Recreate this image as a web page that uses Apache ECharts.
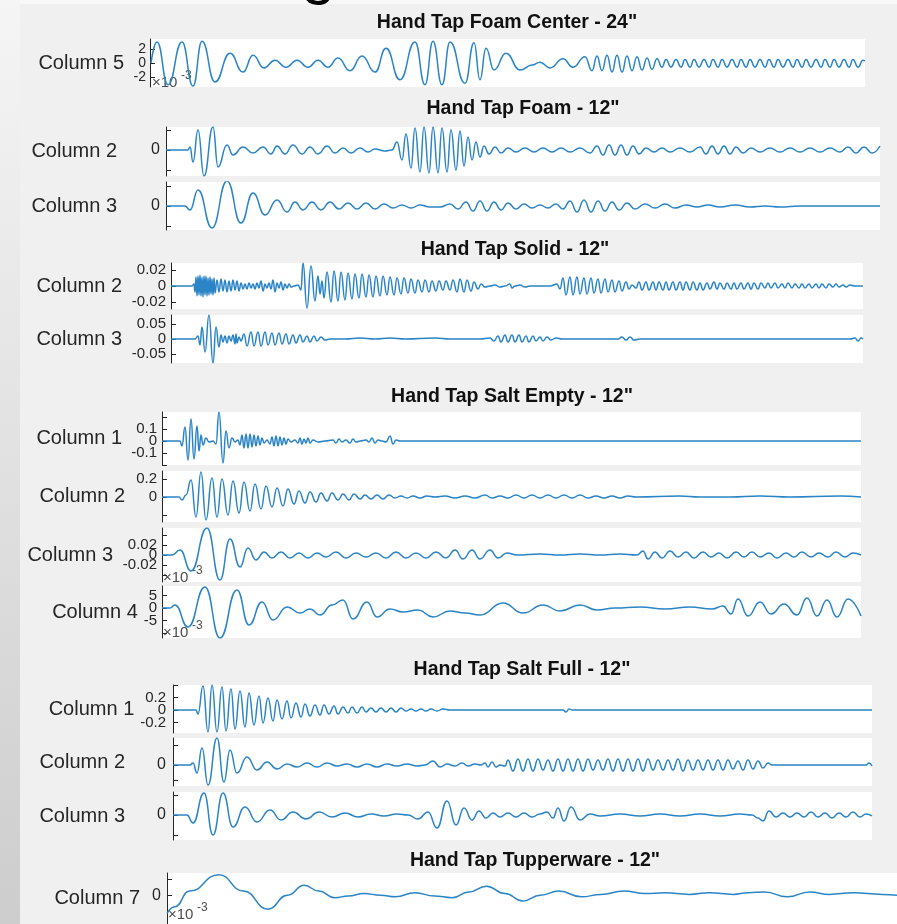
<!DOCTYPE html>
<html><head><meta charset="utf-8">
<script src="https://cdn.jsdelivr.net/npm/echarts@6/dist/echarts.min.js"></script>
<style>html,body{margin:0;padding:0;background:#f0f0f0}#c{width:897px;height:924px}</style>
</head><body><div id="c"></div>
<script>
// ---------------- DATA ----------------
const panelTitles = ['Hand Tap Foam Center - 24"', 'Hand Tap Foam - 12"', 'Hand Tap Solid - 12"',
  'Hand Tap Salt Empty - 12"', 'Hand Tap Salt Full - 12"', 'Hand Tap Tupperware - 12"'];
const seriesNames = ['Column 5', 'Column 2', 'Column 3', 'Column 2', 'Column 3',
  'Column 1', 'Column 2', 'Column 3', 'Column 4', 'Column 1', 'Column 2', 'Column 3', 'Column 7'];

// [sample, value]
const foamCenterCol5 = [[1,0],[7,3.0],[18,-3.1],[32,3.0],[43,-3.3],[52,3.1],[65,-2.7],[80,1.4],[93,-1.3],[103,1.1],[114,-0.7],[125,0.4],[136,-0.6],[147,0.4],[158,-0.6],[168,0.4],[178,-0.6],[188,0.7],[200,-1.1],[212,1.0],[225,-1.3],[236,2.1],[250,-2.4],[265,3.0],[275,-3.1],[283,3.1],[292,-3.1],[300,3.0],[315,-2.9],[324,2.9],[330,-2.4],[336,2.1],[344,-1.0],[356,1.4],[370,-1.0],[382,-0.3],[390,0.1],[400,-0.7],[413,0.6],[423,-0.6],[435,0.9],[442,-1.1],[447,1.0],[452,-1.1],[457,1.1],[462,-1.3],[467,1.1],[472,-1.3],[477,1.0],[482,-1.1],[487,0.9],[492,-1.0],[497,0.7],[502,-0.9],[507,0.6],[512,-0.6],[516,0.5],[521,-0.6],[526,0.5],[531,-0.6],[535,0.5],[540,-0.6],[544,0.5],[549,-0.6],[554,0.5],[559,-0.6],[563,0.5],[568,-0.6],[572,0.5],[577,-0.6],[582,0.5],[587,-0.6],[591,0.5],[596,-0.6],[600,0.5],[605,-0.6],[610,0.5],[615,-0.6],[619,0.5],[624,-0.6],[628,0.5],[633,-0.6],[638,0.5],[643,-0.6],[647,0.5],[652,-0.6],[656,0.5],[661,-0.6],[666,0.5],[671,-0.6],[675,0.5],[680,-0.6],[684,0.5],[689,-0.6],[694,0.5],[699,-0.6],[703,0.5],[708,-0.6],[713,0.4],[715,0.3]];

const foamCol2 = [[0,0],[22,0],[24,3],[27,-12],[32,20],[38,-26],[47,23],[52,-17],[61,5],[67,-5],[77,3],[87,-3],[97,3],[105,-4],[111,4],[119,-4],[127,5],[136,-4],[144,3],[152,-4],[161,4],[169,-3],[177,2],[185,-3],[194,2],[202,-2],[209,1],[219,-1],[226,0],[231,8],[236,-10],[240,16],[245,-18],[249,22],[254,-22],[258,23],[263,-23],[267,23],[272,-23],[276,22],[281,-22],[285,20],[290,-20],[294,19],[298,-16],[302,13],[306,-10],[310,8],[314,-7],[318,4],[323,-4],[329,3],[335,-3],[342,2],[350,-2],[359,2],[368,-2],[377,2],[386,-2],[395,2],[404,-2],[414,2],[424,-3],[431,4],[437,-5],[443,5],[449,-5],[455,5],[461,-5],[467,4],[473,-4],[480,2],[488,-2],[496,2],[504,-2],[514,2],[524,-2],[534,3],[540,-4],[546,4],[552,-4],[558,4],[564,-4],[570,3],[577,-3],[585,2],[594,-2],[604,2],[614,-2],[624,2],[634,-2],[644,2],[654,-2],[664,2],[674,-2],[682,3],[690,-3],[698,3],[706,-3],[714,4]];

const foamCol3 = [[0,0],[19,0],[24,-4],[32,16],[46,-22],[61,25],[75,-17],[87,13],[99,-9],[111,6],[121,-6],[129,4],[137,-4],[146,4],[155,-4],[164,4],[173,-3],[182,3],[191,-3],[200,3],[209,-3],[218,2],[227,-2],[236,1],[245,-2],[254,1],[264,-1],[274,-1],[284,2],[292,-3],[300,4],[307,-5],[314,5],[321,-5],[328,4],[335,-4],[342,3],[350,-3],[358,2],[366,-2],[374,1],[382,-2],[390,2],[397,-3],[404,5],[411,-6],[418,6],[425,-6],[432,5],[439,-5],[446,4],[453,-4],[461,3],[469,-3],[479,2],[489,-2],[499,2],[509,-2],[520,1],[531,-1],[542,1],[554,-1],[569,1],[584,-1],[599,0],[614,-1],[634,0],[654,0],[674,0],[694,0],[714,0]];

const solidCol2 = [[0,0],[21,0],[23,0.0025],[24,-0.0075],[25,0.0113],[26,-0.0125],[27,0.0125],[28,-0.0113],[29,0.0138],[30,-0.0125],[31,0.0113],[32,-0.0138],[33,0.0125],[34,-0.0113],[35,0.0125],[36,-0.0125],[37,0.01],[38,-0.0113],[39,0.0113],[40,-0.01],[41,0.0088],[42,-0.0113],[43,0.01],[44,-0.0088],[46,0.0075],[48,-0.0075],[50,0.0088],[52,-0.0063],[54,0.0075],[56,-0.0075],[58,0.0063],[60,-0.0063],[62,0.0075],[64,-0.005],[66,0.0063],[68,-0.0063],[70,0.0038],[72,-0.0038],[74,0.0025],[76,-0.0038],[78,0.0038],[80,-0.0025],[82,0.0025],[84,-0.0038],[86,0.0038],[88,-0.0025],[90,0.0063],[92,-0.0063],[94,0.0025],[96,-0.0025],[98,0.0038],[100,-0.0038],[102,0.0075],[104,-0.0075],[106,0.0038],[108,-0.0025],[110,0.005],[112,-0.005],[114,0.0025],[116,-0.0025],[118,0.0025],[120,-0.0013],[123,0],[127,0.0013],[130,-0.005],[132,0.0288],[136,-0.0275],[140,0.025],[144,-0.0188],[147,0.0125],[149,-0.01],[151,0.0063],[153,-0.015],[156,0.0175],[160,-0.02],[163,0.0188],[167,-0.0188],[170,0.0175],[174,-0.0175],[177,0.0163],[181,-0.0163],[184,0.015],[188,-0.015],[191,0.015],[195,-0.0138],[198,0.0138],[202,-0.0138],[205,0.0125],[209,-0.0125],[212,0.0125],[216,-0.0113],[219,0.0113],[223,-0.0113],[226,0.01],[230,-0.01],[233,0.01],[237,-0.0088],[240,0.0088],[244,-0.0088],[247,0.0075],[251,-0.0075],[254,0.0075],[258,-0.0075],[261,0.0063],[265,-0.0063],[268,0.0063],[272,-0.005],[275,0.0063],[279,-0.005],[282,0.0075],[286,-0.0075],[289,0.0088],[293,-0.0075],[296,0.0075],[300,-0.0063],[303,0.005],[307,-0.0038],[310,0.0025],[314,-0.0013],[319,0],[324,0.0013],[329,-0.0013],[334,0],[339,0.0025],[341,-0.0025],[344,0],[349,0.0013],[354,-0.0013],[359,0],[369,0],[379,0],[386,0.0025],[389,-0.0038],[392,0.01],[395,-0.0113],[399,0.0113],[402,-0.0113],[406,0.0113],[409,-0.01],[413,0.01],[416,-0.01],[420,0.01],[423,-0.0088],[427,0.0088],[430,-0.0088],[434,0.0088],[437,-0.0075],[441,0.0075],[444,-0.0075],[448,0.0063],[451,-0.0063],[455,0.005],[458,-0.0038],[461,0.0013],[465,-0.0025],[468,0.005],[471,-0.005],[475,0.005],[478,-0.005],[482,0.005],[485,-0.005],[488,0.005],[492,-0.005],[495,0.005],[498,-0.005],[502,0.005],[505,-0.005],[509,0.005],[512,-0.005],[515,0.005],[519,-0.005],[522,0.005],[526,-0.005],[529,0.0038],[532,-0.005],[536,0.0038],[539,-0.0038],[543,0.005],[546,-0.0038],[549,0.0038],[553,-0.0038],[556,0.0038],[560,-0.0038],[563,0.0038],[566,-0.0038],[570,0.0038],[573,-0.0038],[577,0.0038],[580,-0.0038],[583,0.0038],[587,-0.0038],[590,0.0038],[594,-0.0025],[597,0.0038],[600,-0.0025],[604,0.0038],[607,-0.0025],[611,0.0025],[614,-0.0025],[617,0.0038],[621,-0.0025],[624,0.0025],[628,-0.0025],[631,0.0025],[634,-0.0025],[638,0.0025],[641,-0.0025],[645,0.0025],[648,-0.0025],[651,0.0025],[655,-0.0025],[658,0.0025],[662,-0.0013],[665,0.0025],[668,-0.0013],[672,0.0013],[675,-0.0013],[679,0.0013],[684,0],[692,0]];

const solidCol3 = [[0,0],[24,0],[27,0.01],[29,-0.02],[31,0.04],[34,-0.0433],[38,0.08],[42,-0.08],[45,0.04],[48,-0.0267],[50,0.0133],[52,-0.01],[54,0.01],[56,-0.0133],[58,0.01],[60,-0.0067],[62,0.0133],[64,-0.0167],[65,0.0167],[66,-0.0133],[68,0.0067],[70,-0.0067],[73,0.0167],[76,-0.0233],[80,0.0233],[83,-0.0233],[87,0.0233],[90,-0.0233],[94,0.0233],[97,-0.02],[101,0.02],[104,-0.02],[108,0.02],[111,-0.0167],[115,0.0167],[118,-0.0167],[122,0.0133],[125,-0.0133],[129,0.0133],[132,-0.01],[136,0.01],[139,-0.01],[143,0.01],[146,-0.0067],[150,0.0067],[154,-0.0033],[159,0],[174,0],[189,0.0033],[204,0],[219,0.0033],[234,0],[264,0.0033],[279,0],[309,0],[319,0.0033],[323,-0.0067],[327,0.01],[330,-0.01],[334,0.0133],[337,-0.01],[341,0.0133],[344,-0.01],[348,0.0133],[351,-0.01],[355,0.01],[358,-0.01],[362,0.01],[365,-0.0067],[369,0.0067],[372,-0.0067],[376,0.0067],[380,-0.0033],[385,0.0033],[391,0],[429,0],[447,0],[451,0.0067],[455,-0.0033],[459,0.0067],[463,-0.0033],[469,0],[529,0],[589,0],[649,0],[679,0],[684,0.0033],[687,-0.0067],[690,0.0033],[692,0]];

const saltEmptyCol1 = [[0,0],[18,0],[20,-0.0417],[23,0.1167],[26,-0.1583],[29,0.1833],[32,-0.15],[35,0.125],[37,-0.0833],[39,0.05],[41,-0.0333],[44,0.025],[47,-0.0083],[51,0],[54,-0.025],[57,0.2417],[61,-0.1833],[64,0.0833],[67,-0.0583],[70,0.025],[73,-0.0083],[76,0.0083],[78,-0.0333],[80,0.05],[82,-0.0583],[84,0.0583],[86,-0.0583],[88,0.0583],[90,-0.05],[92,0.05],[94,-0.0417],[96,0.0417],[98,-0.0333],[100,0.025],[102,-0.0167],[105,0.0083],[108,-0.025],[110,0.0333],[112,-0.0417],[114,0.0417],[116,-0.0417],[118,0.0333],[120,-0.0333],[122,0.025],[124,-0.025],[126,0.0167],[129,-0.0083],[133,0.0083],[136,-0.0167],[138,0.025],[140,-0.025],[142,0.0167],[144,-0.0167],[146,0.025],[148,-0.0167],[151,0.0083],[156,-0.0083],[163,0],[171,0.0083],[174,-0.0167],[177,0.0167],[180,-0.0083],[184,0.0083],[188,-0.0167],[191,0.0167],[194,-0.0083],[198,0],[204,0.0083],[207,-0.0083],[210,0.025],[213,-0.0167],[216,0.0083],[220,0],[224,-0.0083],[228,0.0417],[231,-0.025],[234,0.0083],[238,0],[300,0],[400,0],[500,0],[600,0],[699,0]];

const saltEmptyCol2 = [[0,0],[17,0],[20,-0.0333],[24,0.0222],[29,0.1889],[34,-0.2222],[39,0.2778],[44,-0.2556],[50,0.2111],[55,-0.2222],[60,0.2],[66,-0.2],[71,0.1778],[77,-0.1778],[82,0.1667],[88,-0.1556],[93,0.1444],[99,-0.1333],[104,0.1222],[110,-0.1111],[115,0.1],[121,-0.1],[126,0.0889],[132,-0.0778],[137,0.0667],[143,-0.0667],[148,0.0556],[154,-0.0556],[159,0.0444],[165,-0.0444],[170,0.0444],[176,-0.0333],[181,0.0333],[187,-0.0333],[192,0.0333],[198,-0.0222],[203,0.0222],[209,-0.0222],[215,0.0222],[221,-0.0222],[227,0.0222],[233,-0.0111],[239,0.0111],[245,-0.0111],[251,0.0111],[258,-0.0111],[265,0.0111],[273,0],[283,0.0111],[293,-0.0111],[303,0.0111],[313,-0.0111],[323,0.0222],[330,-0.0111],[338,0.0111],[346,-0.0111],[354,0.0222],[362,-0.0111],[370,0.0222],[378,-0.0111],[386,0.0222],[394,-0.0111],[402,0.0222],[410,-0.0111],[418,0.0222],[426,-0.0111],[434,0.0111],[442,-0.0111],[450,0.0111],[458,-0.0111],[466,0.0111],[474,0],[518,0.0111],[538,0],[568,0],[598,0.0111],[628,0],[678,0.0111],[699,0]];

const saltEmptyCol3 = [[0,0],[10,0],[18,0.01],[29,-0.032],[45,0.054],[58,-0.05],[68,0.032],[78,-0.024],[86,0.014],[94,-0.01],[102,0.006],[110,-0.006],[119,0.006],[128,-0.006],[137,0.004],[146,-0.006],[155,0.004],[164,-0.004],[174,0.006],[184,-0.006],[194,0.004],[204,-0.004],[214,0.004],[224,-0.006],[234,0.006],[244,-0.006],[254,0.004],[264,-0.006],[274,0.006],[284,-0.006],[293,0.01],[301,-0.008],[310,0.01],[318,-0.008],[328,0.01],[336,-0.006],[345,0.004],[355,0],[378,0.002],[398,0],[418,0.002],[438,0],[458,0.002],[475,0],[481,0.008],[486,-0.008],[493,0.006],[500,-0.006],[508,0.008],[516,-0.004],[524,0.006],[532,-0.006],[541,0.006],[549,-0.004],[557,0.004],[565,-0.006],[574,0.006],[582,-0.004],[590,0.006],[598,-0.004],[607,0.004],[615,-0.006],[624,0.004],[632,-0.004],[640,0.006],[649,-0.004],[657,0.004],[666,-0.004],[674,0.006],[683,-0.004],[691,0.004],[699,0]];

const saltEmptyCol4 = [[0,0],[8,0],[13,1.2],[26,-7.6],[43,8.4],[58,-12],[75,7.2],[87,-6.8],[100,2.4],[111,-4.8],[125,0.4],[138,-2],[148,-0.4],[158,-2.8],[170,1.2],[181,3.2],[191,-4.4],[205,2.4],[215,-3.6],[228,-0.4],[241,-1.6],[256,-0.8],[271,-3.6],[288,-1.2],[303,-2],[318,-2.8],[341,2],[361,-2],[381,1.2],[398,-1.2],[418,1.2],[435,-0.8],[453,0],[478,0.4],[503,-0.4],[528,0.4],[550,-0.4],[561,0.8],[569,-2.4],[576,3.6],[586,-3.2],[598,2.4],[609,-2.4],[622,1.6],[635,-2.8],[645,4],[655,-3.2],[665,3.2],[675,-3.6],[686,3.6],[699,-3.2]];

const saltFullCol1 = [[0,0],[23,0],[25,-0.064],[30,0.384],[35,-0.352],[39,0.4],[44,-0.352],[49,0.368],[53,-0.336],[58,0.336],[62,-0.304],[67,0.304],[72,-0.272],[76,0.272],[81,-0.24],[86,0.224],[90,-0.208],[95,0.192],[100,-0.176],[104,0.16],[109,-0.144],[114,0.144],[118,-0.128],[123,0.112],[128,-0.112],[132,0.096],[137,-0.096],[142,0.08],[147,-0.08],[151,0.08],[156,-0.064],[161,0.064],[165,-0.064],[170,0.048],[175,-0.048],[179,0.048],[184,-0.048],[189,0.048],[193,-0.032],[198,0.032],[203,-0.032],[208,0.032],[213,-0.032],[218,0.032],[223,-0.032],[228,0.032],[233,-0.016],[238,0.016],[243,-0.016],[248,0.016],[253,-0.016],[258,0.016],[264,-0.016],[270,0.016],[277,0],[327,0],[390,0],[393,-0.032],[396,0.016],[399,0],[477,0],[577,0],[699,0]];

const saltFullCol2 = [[0,0],[17,0],[20,2],[24,-8],[29,17],[35,-20],[44,27],[51,-17],[57,15],[64,-8],[74,8],[84,-5],[94,3],[104,-4],[114,1],[124,-2],[134,2],[144,-2],[154,2],[164,-1],[174,1],[184,-2],[194,1],[204,-2],[214,1],[224,-1],[234,1],[244,-1],[252,0],[260,4],[267,-2],[274,1],[282,-1],[289,2],[295,-1],[302,1],[308,0],[312,2],[315,-2],[319,3],[323,-2],[327,0],[332,-1],[335,5],[340,-6],[345,6],[350,-6],[355,6],[360,-6],[365,6],[370,-5],[375,5],[380,-6],[385,6],[390,-6],[395,6],[400,-6],[405,6],[410,-6],[415,6],[420,-5],[425,5],[430,-5],[435,6],[440,-6],[445,6],[450,-6],[455,6],[460,-6],[465,6],[470,-6],[475,6],[480,-5],[485,5],[490,-5],[495,5],[500,-5],[505,6],[510,-6],[515,5],[520,-5],[525,5],[530,-5],[535,5],[540,-5],[545,5],[550,-5],[555,5],[560,-4],[565,4],[570,-5],[575,5],[580,-4],[585,4],[590,-3],[595,2],[599,0],[627,0],[657,0],[693,0],[696,2],[699,-1]];

const saltFullCol3 = [[0,0],[14,0],[20,-8],[31,22],[40,-20],[50,22],[60,-12],[72,8],[84,-7],[97,5],[108,-5],[120,3],[133,-4],[146,3],[159,-2],[172,2],[185,-2],[198,1],[211,-1],[224,1],[235,0],[245,-4],[255,3],[264,-13],[274,14],[283,-10],[291,7],[299,-5],[306,4],[313,-3],[320,2],[327,-2],[335,2],[343,-2],[351,2],[359,-2],[367,1],[374,3],[380,-3],[385,7],[391,-6],[398,8],[407,-5],[417,1],[427,-1],[447,1],[467,-1],[487,1],[507,-1],[527,1],[547,-1],[567,1],[579,0],[585,-3],[590,-6],[596,4],[603,-2],[610,2],[617,-2],[624,2],[631,-2],[638,3],[645,-2],[652,2],[659,-3],[666,2],[673,-2],[680,3],[687,-2],[693,1],[699,-1]];

const tupperwareCol7 = [[0,-22],[8,-14],[23,5],[53,25],[78,5],[103,-17],[123,0],[140,12],[155,5],[171,-3],[185,-1],[201,2],[218,0],[233,-2],[253,3],[273,-1],[291,-3],[308,4],[326,11],[345,2],[363,-7],[381,0],[400,5],[423,-2],[443,1],[466,5],[488,2],[508,3],[533,1],[553,3],[578,1],[593,3],[610,4],[633,-2],[656,4],[676,1],[700,3],[730,1],[745,0]];

// axis ticks / tick labels per stacked axis
const tickValues = [[-2,0,2],[-20,0,20],[-20,0,20],[-0.02,0,0.02],[-0.05,0,0.05],
  [-0.2,-0.1,0,0.1,0.2],[-0.2,0,0.2],[-0.04,-0.02,0,0.02,0.04],[-10,-5,0,5],
  [-0.2,0,0.2,0.4],[-15,0,20],[-20,0,20],[0,20]];
const tickLabels = [[-2,2],[],[],[-0.02,0.02],[-0.05,0.05],
  [-0.1,0.1],[0.2],[-0.02,0.02],[-5,5],
  [-0.2,0.2],[],[],[]];
const zeroLabel = [0];
const exponentText = ['×10', '-3'];

const seriesData = [foamCenterCol5, foamCol2, foamCol3, solidCol2, solidCol3,
  saltEmptyCol1, saltEmptyCol2, saltEmptyCol3, saltEmptyCol4,
  saltFullCol1, saltFullCol2, saltFullCol3, tupperwareCol7];

// ---------------- LAYOUT ----------------
const L = [
  {left:150, top:39, width:715, height:48, min:-3.43, max:3.43, gap:26, margin:4, tickFont:14},
  {left:166, top:127, width:714, height:49, min:-26, max:23, gap:49, margin:6, tickFont:16},
  {left:166, top:182, width:714, height:48, min:-24, max:24, gap:49, margin:6, tickFont:16},
  {left:171, top:263, width:692, height:46, min:-0.02875, max:0.02875, gap:49, margin:5, tickFont:15},
  {left:171, top:315, width:692, height:48, min:-0.08, max:0.08, gap:49, margin:5, tickFont:15},
  {left:162, top:412, width:699, height:53, min:-0.2, max:0.2417, gap:40, margin:5, tickFont:15},
  {left:162, top:471, width:699, height:51, min:-0.2778, max:0.2889, gap:37, margin:5, tickFont:15},
  {left:162, top:528, width:699, height:54, min:-0.054, max:0.054, gap:49, margin:5, tickFont:15},
  {left:162, top:586, width:699, height:52, min:-12, max:8.8, gap:24, margin:5, tickFont:15},
  {left:173, top:685, width:699, height:48, min:-0.368, max:0.4, gap:36, margin:7, tickFont:15},
  {left:173, top:738, width:699, height:48, min:-21, max:27, gap:48, margin:7, tickFont:16},
  {left:173, top:792, width:699, height:48, min:-25, max:23, gap:48, margin:7, tickFont:16},
  {left:167, top:873, width:745, height:62, min:-35, max:27, gap:27, margin:6, tickFont:16}
];
const titlePos = [[507,23],[523,109],[515,250],[512,397],[522,670],[535,861]];
// exponent labels: [axis index, dx, dy from axis top]
const expPos = [[0,2,44],[8,1,-8],[8,1,47],[12,1,42]];

const FONT = '"Liberation Sans", Arial, Helvetica, sans-serif';
const LINE = '#2a84c6';
const AX = '#262626';

const grid = [], xAxis = [], yAxis = [], series = [];
L.forEach((g, i) => {
  grid.push({left:g.left, top:g.top, width:g.width, height:g.height, show:true,
    backgroundColor:'#ffffff', borderWidth:0, containLabel:false});
  const d = seriesData[i];
  xAxis.push({type:'value', gridIndex:i, min:0, max:d[d.length-1][0], show:false});
  yAxis.push({type:'value', gridIndex:i, position:'left', min:g.min, max:g.max,
    name: seriesNames[i], nameLocation:'middle', nameRotate:0, nameGap:g.gap,
    nameTextStyle:{fontSize:20, color:AX, fontFamily:FONT},
    axisLine:{show:true, lineStyle:{color:AX, width:1}},
    axisTick:{show:true, inside:true, length:5, customValues:tickValues[i], lineStyle:{color:AX}},
    axisLabel:{show:tickLabels[i].length > 0, customValues:tickLabels[i], margin:g.margin, fontSize:g.tickFont,
      color:AX, fontFamily:FONT, hideOverlap:false},
    splitLine:{show:false}});
  series.push({type:'line', xAxisIndex:i, yAxisIndex:i, data:d, showSymbol:false, smooth:0.5,
    smoothMonotone:'x', silent:true, animation:false, lineStyle:{color:LINE, width:1.5}});
});
// second label layer on each axis for the 0 tick (drawn independently so it is never hidden)
L.forEach((g, i) => {
  yAxis.push({type:'value', gridIndex:i, position:'left', offset:0, min:g.min, max:g.max,
    axisLine:{show:false}, axisTick:{show:false}, splitLine:{show:false},
    axisLabel:{show:true, customValues:zeroLabel, margin:g.margin, fontSize:g.tickFont,
      color:AX, fontFamily:FONT, hideOverlap:false}});
});

const graphic = [
  {type:'rect', shape:{x:0, y:0, width:20, height:924}, z:-10,
    style:{fill:new echarts.graphic.LinearGradient(0,0,0,1,[{offset:0,color:'#f5f5f5'},{offset:1,color:'#cdcdcd'}])}},
  {type:'rect', shape:{x:20, y:0, width:877, height:4}, z:-10, style:{fill:'#f8f8f8'}},
  {type:'text', x:301, y:6, style:{text:'g', font:'normal 62px ' + FONT, fill:'#000', verticalAlign:'bottom'}}
];
panelTitles.forEach((t, i) => {
  graphic.push({type:'text', x:titlePos[i][0], y:titlePos[i][1],
    style:{text:t, fontSize:19.5, fontWeight:'bold', fontFamily:FONT, fill:'#111', align:'center', verticalAlign:'middle'}});
});
expPos.forEach(p => {
  const g = L[p[0]];
  graphic.push({type:'text', x:g.left + p[1], y:g.top + p[2],
    style:{text:exponentText[0], fontSize:15, fontFamily:FONT, fill:'#4d4d4d', verticalAlign:'middle'}});
  graphic.push({type:'text', x:g.left + p[1] + 29, y:g.top + p[2] - 7,
    style:{text:exponentText[1], fontSize:12, fontFamily:FONT, fill:'#4d4d4d', verticalAlign:'middle'}});
});

const chart = echarts.init(document.getElementById('c'), null, {renderer:'canvas'});
chart.setOption({backgroundColor:'#f0f0f0', animation:false, grid, xAxis, yAxis, series, graphic});
</script></body></html>
